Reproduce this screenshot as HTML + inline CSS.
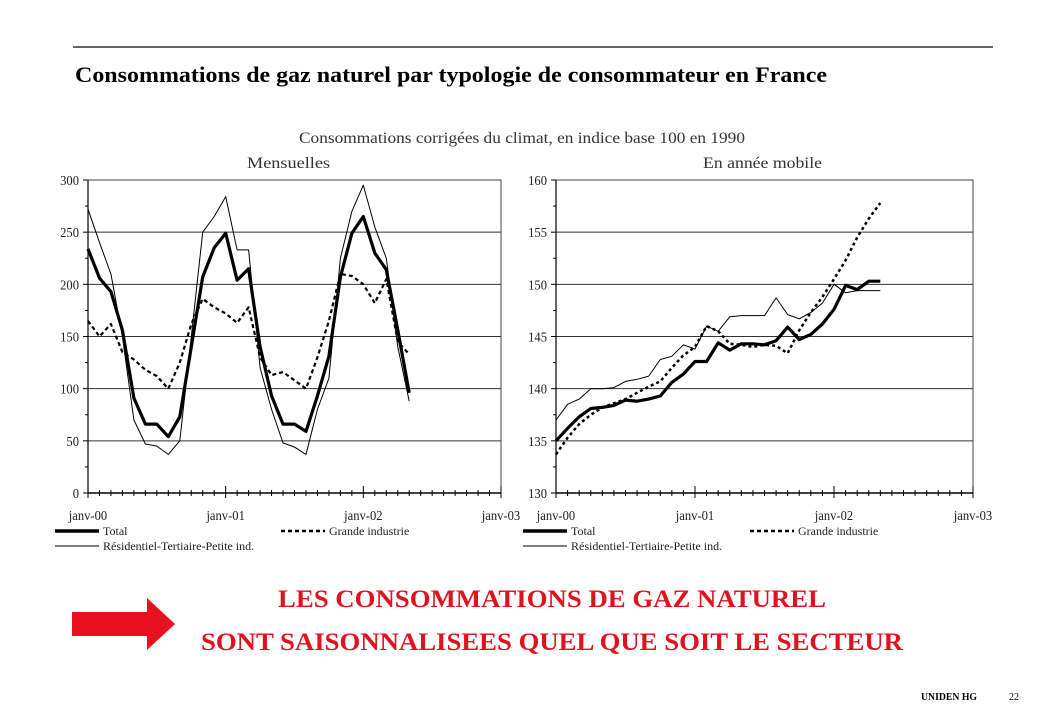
<!DOCTYPE html>
<html><head><meta charset="utf-8"><style>
html,body{margin:0;padding:0;background:#fff;}
svg{display:block;font-family:"Liberation Serif",serif;}
</style></head><body>
<svg id="s" width="1040" height="720" viewBox="0 0 1040 720">
<line x1="73" y1="47" x2="993" y2="47" stroke="#333" stroke-width="1.5"/>
<text x="75" y="82" font-size="22" font-weight="bold" textLength="752" lengthAdjust="spacingAndGlyphs">Consommations de gaz naturel par typologie de consommateur en France</text>
<text x="299" y="143" font-size="16" fill="#333" textLength="446" lengthAdjust="spacingAndGlyphs">Consommations corrigées du climat, en indice base 100 en 1990</text>
<text x="247" y="168" font-size="16" fill="#333" textLength="83" lengthAdjust="spacingAndGlyphs">Mensuelles</text>
<text x="703" y="168" font-size="16" fill="#333" textLength="119" lengthAdjust="spacingAndGlyphs">En année mobile</text>
<g id="left"></g>
<g id="right"></g>
<polygon points="72,612 147,612 147,598 175,624 147,650 147,636 72,636" fill="#e8101e"/>
<text x="278" y="607" font-size="25" font-weight="bold" fill="#e0121e" textLength="548" lengthAdjust="spacingAndGlyphs">LES CONSOMMATIONS DE GAZ NATUREL</text>
<text x="201" y="650" font-size="25" font-weight="bold" fill="#e0121e" textLength="702" lengthAdjust="spacingAndGlyphs">SONT SAISONNALISEES QUEL QUE SOIT LE SECTEUR</text>
<text x="921" y="700" font-size="10" font-weight="bold" textLength="56" lengthAdjust="spacingAndGlyphs">UNIDEN HG</text>
<text x="1009" y="700" font-size="10">22</text>
</svg>
<script>
const years = ["janv-00","janv-01","janv-02","janv-03"];
const leftTicks = [0,50,100,150,200,250,300];
const rightTicks = [130,135,140,145,150,155,160];
const leftTotal = [234,206,193,156,91,66,66,54,73,140,207,235,249,204,215,140,93,66,66,59,93,131,207,249,265,230,214,156,96];
const leftRes = [272,240,210,150,70,47,45,37,50,150,250,265,284,233,233,120,80,48,44,37,80,110,225,270,295,255,225,140,88];
const leftInd = [165,150,162,135,128,118,112,100,125,162,186,178,172,163,178,130,113,116,108,100,130,165,210,208,200,182,205,145,133];
const rightTotal = [135,136.2,137.3,138.1,138.2,138.4,138.9,138.8,139.0,139.3,140.6,141.4,142.6,142.6,144.4,143.7,144.3,144.3,144.2,144.6,145.9,144.7,145.2,146.2,147.6,149.9,149.5,150.3,150.3];
const rightRes = [137,138.5,139,140,140,140.1,140.7,140.9,141.2,142.8,143.1,144.2,143.8,146,145.5,146.9,147,147,147,148.7,147.1,146.7,147.3,148.2,150,149.2,149.4,149.4,149.4];
const rightInd = [133.7,135.3,136.6,137.5,138.2,138.6,139,139.6,140.2,140.7,142,143.2,144,146,145.5,144.3,144.2,144,144.2,144.1,143.4,145.6,147.3,148.8,150.5,152.3,154.5,156.3,157.8];

const NS="http://www.w3.org/2000/svg";
function mk(p,tag,a){const e=document.createElementNS(NS,tag);for(const k in a)e.setAttribute(k,a[k]);p.appendChild(e);return e;}

function chart(g,cfg){
  const {x0,x1,y0,y1,vmin,vmax,ticks,series,legX,legX2}=cfg;
  const xs=i=>x0+(x1-x0)*i/36;
  const ys=v=>y0-(y0-y1)*(v-vmin)/(vmax-vmin);
  ticks.forEach((t,i)=>{
    const y=ys(t);
    if(i>0){const gl=mk(g,'line',{x1:x0,x2:x1,y1:y,y2:y,stroke:'#333','stroke-width':1});
    
    }
    mk(g,'line',{x1:x0-5,x2:x0,y1:y,y2:y,stroke:'#000'});
    if(i<ticks.length-1){const ym=(y+ys(ticks[i+1]))/2;mk(g,'line',{x1:x0-3,x2:x0,y1:ym,y2:ym,stroke:'#000'});}
    const tl=mk(g,'text',{x:x0-9,y:y+5,'font-size':14,'text-anchor':'end',fill:'#222',transform:`translate(${(x0-9)*0.1},0) scale(0.9,1)`});
    tl.textContent=t;
    
    
  });
  mk(g,'rect',{x:x0,y:y1,width:x1-x0,height:y0-y1,fill:'none',stroke:'#444','stroke-width':1});
  mk(g,'line',{x1:x0,x2:x1,y1:y0,y2:y0,stroke:'#000','stroke-width':1.5});
  mk(g,'line',{x1:x0,x2:x0,y1:y1,y2:y0,stroke:'#000','stroke-width':1.2});
  for(let m=0;m<=36;m++){const x=xs(m);const big=m%12==0;
    mk(g,'line',{x1:x,x2:x,y1:y0-(big?7:3),y2:y0+(big?5:3),stroke:'#000'});}
  years.forEach((yr,i)=>{const t=mk(g,'text',{x:xs(i*12),y:y0+27,'font-size':14,'text-anchor':'middle',fill:'#222',transform:`translate(${xs(i*12)*0.1},0) scale(0.9,1)`});
    t.textContent=yr;
    
    });
  series.forEach(s=>{
    const pts=s.data.map((v,i)=>xs(i).toFixed(1)+','+ys(v).toFixed(1)).join(' ');
    const pl=mk(g,'polyline',{points:pts,fill:'none',stroke:'#000','stroke-width':s.w,'stroke-dasharray':s.dash||'none','stroke-linejoin':'round'});
    
    
  });
  const L=[[legX,531,3.5,'none','Total'],[legX2,531,2.5,'4 3','Grande industrie'],[legX,546,1,'none','Résidentiel-Tertiaire-Petite ind.']];
  L.forEach(l=>{
    const lg=mk(g,'g',{});
    
    
    mk(lg,'line',{x1:l[0],x2:l[0]+44,y1:l[1],y2:l[1],stroke:'#000','stroke-width':l[2],'stroke-dasharray':l[3]});
    const t=mk(lg,'text',{x:l[0]+48,y:l[1]+4,'font-size':12,fill:'#222'});t.textContent=l[4];
  });
}
chart(document.getElementById('left'),{x0:88,x1:501,y0:493,y1:180,vmin:0,vmax:300,ticks:leftTicks,legX:55,legX2:281,
  series:[{data:leftRes,w:1,name:'residential-line'},{data:leftInd,w:2.2,dash:'4 3',name:'industry-line'},{data:leftTotal,w:3.2,name:'total-line'}]});
chart(document.getElementById('right'),{x0:556,x1:973,y0:493,y1:180,vmin:130,vmax:160,ticks:rightTicks,legX:523,legX2:750,
  series:[{data:rightRes,w:1,name:'residential-line'},{data:rightInd,w:2.5,dash:'3 3',name:'industry-line'},{data:rightTotal,w:3.2,name:'total-line'}]});
</script>
</body></html>
